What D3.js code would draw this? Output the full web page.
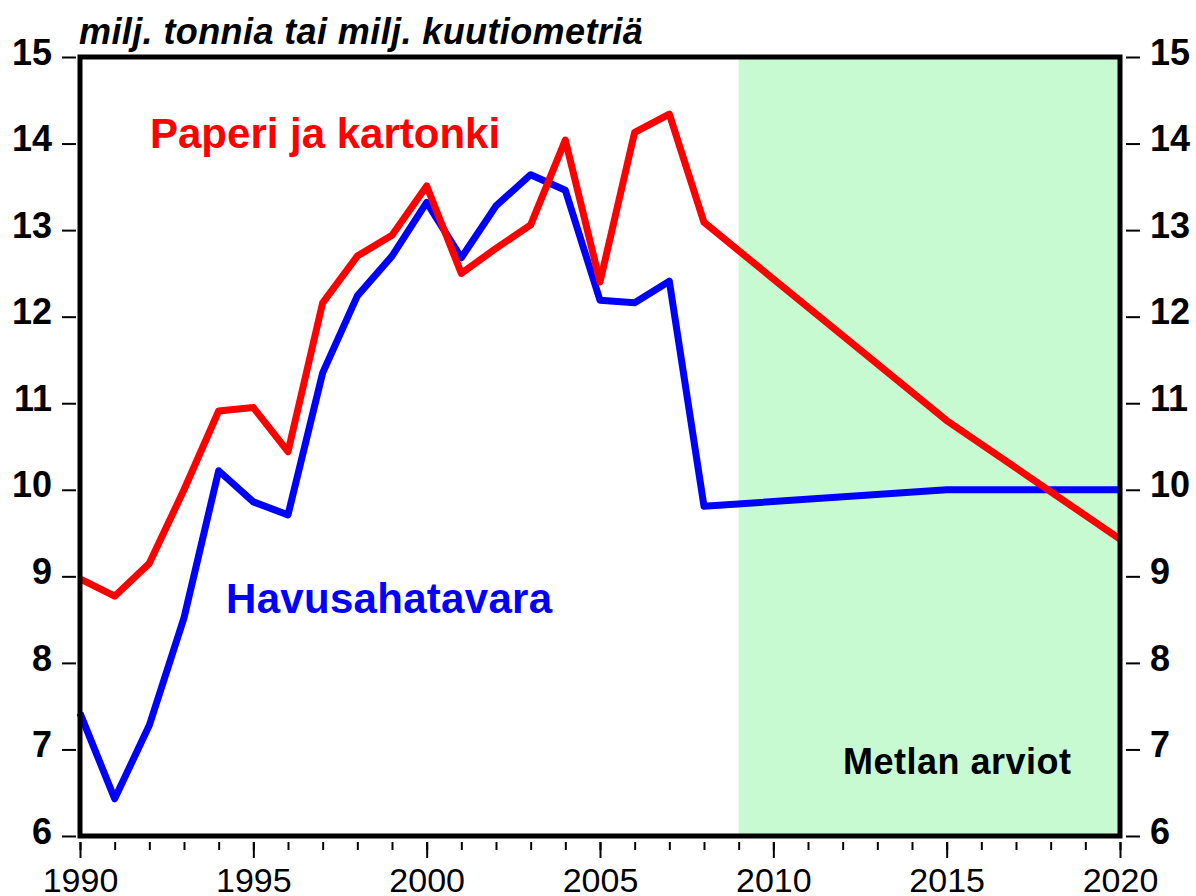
<!DOCTYPE html>
<html>
<head>
<meta charset="utf-8">
<script src="https://d3js.org/d3.v7.min.js"></script>
<style>
  body { margin: 0; background: #fff; }
  text { font-family: "Liberation Sans", Arial, sans-serif; }
</style>
</head>
<body>
<div id="chart"></div>
<script>
// data
var paperYears = [1990,1991,1992,1993,1994,1995,1996,1997,1998,1999,2000,2001,2002,2003,2004,2005,2006,2007,2008,2015,2020]
var paperValues = [8.97,8.77,9.15,10.0,10.91,10.95,10.44,12.16,12.70,12.94,13.51,12.50,12.79,13.06,14.04,12.40,14.13,14.34,13.09,10.80,9.43]
var sawnYears = [1990,1991,1992,1993,1994,1995,1996,1997,1998,1999,2000,2001,2002,2003,2004,2005,2006,2007,2008,2015,2020]
var sawnValues = [7.42,6.43,7.28,8.52,10.22,9.86,9.71,11.35,12.24,12.70,13.32,12.68,13.28,13.64,13.46,12.19,12.16,12.41,9.81,10.0,10.0]
var forecastStart = 2009
var forecastEnd = 2020
var yTicks = [6,7,8,9,10,11,12,13,14,15]
var xLabels = [1990,1995,2000,2005,2010,2015,2020]

// set the dimensions and margins of the graph
var width = 1196,
    height = 896,
    margin = {top: 57, right: 76, bottom: 60, left: 80}

var svg = d3.select("#chart")
  .append("svg")
    .attr("width", width)
    .attr("height", height)

var x = d3.scaleLinear()
  .domain([1990, 2020])
  .range([margin.left, width - margin.right])

var y = d3.scaleLinear()
  .domain([6, 15])
  .range([height - margin.bottom, margin.top])

// forecast shading
svg.append("rect")
  .attr("x", x(forecastStart))
  .attr("y", y(15))
  .attr("width", x(forecastEnd) - x(forecastStart))
  .attr("height", y(6) - y(15))
  .attr("fill", "#c8fad2")

// y axes, ticks sit outside the frame with a small gap
var yLeft = svg.append("g")
  .attr("transform", "translate(" + (x(1990) - 4) + ",0)")
  .call(d3.axisLeft(y).tickValues(yTicks).tickSize(14).tickPadding(10).tickFormat(d3.format("d")))
var yRight = svg.append("g")
  .attr("transform", "translate(" + (x(2020) + 6) + ",0)")
  .call(d3.axisRight(y).tickValues(yTicks).tickSize(14).tickPadding(10).tickFormat(d3.format("d")))

;[yLeft, yRight].forEach(function(g) {
  g.select(".domain").remove()
  g.selectAll("line").attr("stroke", "#000").attr("stroke-width", 2)
  g.selectAll("text")
    .style("font-size", "36px")
    .style("font-weight", "bold")
    .attr("fill", "#000")
    .attr("dy", "0.2em")
})

// x axis: minor ticks every year, long ticks every five years
var xMinor = svg.append("g")
  .attr("transform", "translate(0," + (y(6) + 6) + ")")
  .call(d3.axisBottom(x).tickValues(d3.range(1990, 2021)).tickSize(8).tickFormat(""))
var xMajor = svg.append("g")
  .attr("transform", "translate(0," + (y(6) + 6) + ")")
  .call(d3.axisBottom(x).tickValues(xLabels).tickSize(16).tickPadding(10).tickFormat(d3.format("d")))

;[xMinor, xMajor].forEach(function(g) {
  g.select(".domain").remove()
  g.selectAll("line").attr("stroke", "#000").attr("stroke-width", 2)
})
xMajor.selectAll("text")
  .style("font-size", "34px")
  .attr("fill", "#000")

// the two series
var line = d3.line()
  .x(function(d) { return x(d[0]) })
  .y(function(d) { return y(d[1]) })

svg.append("path")
  .datum(d3.zip(sawnYears, sawnValues))
  .attr("d", line)
  .attr("fill", "none")
  .attr("stroke", "#0000ff")
  .attr("stroke-width", 7)
  .attr("stroke-linejoin", "round")

svg.append("path")
  .datum(d3.zip(paperYears, paperValues))
  .attr("d", line)
  .attr("fill", "none")
  .attr("stroke", "#ff0000")
  .attr("stroke-width", 7)
  .attr("stroke-linejoin", "round")

// frame
svg.append("rect")
  .attr("x", x(1990))
  .attr("y", y(15))
  .attr("width", x(2020) - x(1990))
  .attr("height", y(6) - y(15))
  .attr("fill", "none")
  .attr("stroke", "#000")
  .attr("stroke-width", 5)

// labels
svg.append("text")
  .attr("x", 79)
  .attr("y", 44)
  .style("font-size", "36px")
  .style("font-weight", "bold")
  .style("font-style", "italic")
  .style("letter-spacing", "0.4px")
  .text("milj. tonnia tai milj. kuutiometriä")

svg.append("text")
  .attr("x", 150)
  .attr("y", 148)
  .style("font-size", "42px")
  .style("font-weight", "bold")
  .attr("fill", "#ff0000")
  .text("Paperi ja kartonki")

svg.append("text")
  .attr("x", 226)
  .attr("y", 613)
  .style("font-size", "42px")
  .style("font-weight", "bold")
  .style("letter-spacing", "0.3px")
  .attr("fill", "#0000ff")
  .text("Havusahatavara")

svg.append("text")
  .attr("x", 843)
  .attr("y", 774)
  .style("font-size", "36px")
  .style("font-weight", "bold")
  .style("letter-spacing", "0.5px")
  .attr("fill", "#000")
  .text("Metlan arviot")
</script>
</body>
</html>
